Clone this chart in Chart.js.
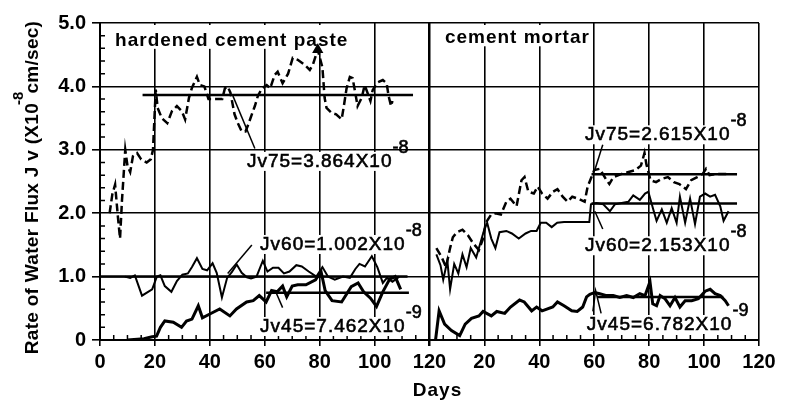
<!DOCTYPE html>
<html>
<head>
<meta charset="utf-8">
<title>Rate of Water Flux</title>
<script src="https://cdn.jsdelivr.net/npm/chart.js@4.4.1/dist/chart.umd.min.js"></script>
<style>
  html, body { margin: 0; padding: 0; background: #fff; }
  canvas { display: block; }
</style>
</head>
<body>
<canvas id="chart" width="795" height="403"></canvas>
<script>
// mortar days are drawn after the paste panel, on one shared x axis
const MORTAR_START = 120;

// hardened cement paste
const pasteDays75 = [3.5, 4.5, 5.5, 6.5, 7.3, 8, 8.6, 9.2, 10, 11, 12, 13.5, 15, 17, 18.5, 19.3, 20.3, 21, 22.5, 24.5,
  26.2, 28, 29.8, 31, 32.4, 33.5, 35.3, 36.4, 38, 39.5, 41, 43, 44.5, 45.5, 46.5, 47.5, 49, 50.2, 51.6, 53,
  54, 55.3, 56.4, 57.5, 59, 60.7, 62, 63.6, 64.7, 66.5, 68.5, 70.2, 72, 74.5, 76.4, 77.5, 79.3, 81, 81.8, 82.5,
  84.4, 86, 88, 88.7, 89.8, 91, 92, 93, 93.8, 95.3, 96.4, 97.5, 98.5, 99.3, 101, 103, 104.4, 105.1, 106, 106.5];
const pasteJv75 = [2.0, 2.3, 2.45, 1.95, 1.6, 2.2, 2.6, 3.0, 2.75, 2.65, 2.9, 2.95, 2.85, 2.8, 2.85, 3.0, 3.95, 3.66, 3.5, 3.42,
  3.61, 3.69, 3.61, 3.48, 3.82, 3.98, 4.15, 4.02, 4.0, 3.8, 3.8, 3.8, 3.8, 3.97, 4.0, 3.9, 3.56, 3.42, 3.29, 3.29,
  3.4, 3.56, 3.69, 3.85, 3.97, 4.02, 3.97, 4.18, 4.23, 4.05, 4.2, 4.45, 4.42, 4.34, 4.26, 4.34, 4.58, 4.3, 3.82, 3.66,
  3.58, 3.56, 3.48, 3.66, 3.97, 4.15, 4.13, 3.89, 3.69, 3.82, 4.02, 3.89, 3.77, 3.94, 4.06, 4.1, 4.05, 3.85, 3.69, 3.77];

const pasteDays60 = [9, 11, 12.7, 15.3, 19, 20.7, 22, 23.6, 26, 28, 30, 32, 33.5, 35.3, 37.3, 39, 41, 42.5, 44.4, 46.3,
  48, 49.8, 51.6, 53.5, 55, 57, 59.3, 61, 63, 65, 67, 69, 71.5, 73.5, 76, 78.8, 81, 83, 85.5, 88.5,
  91, 93, 94.5, 96.5, 99, 101, 103, 104.5, 106.5, 109];
const pasteJv60 = [1.0, 0.98, 1.02, 0.7, 0.8, 1.0, 1.02, 0.85, 0.76, 0.93, 1.03, 1.05, 1.15, 1.29, 1.12, 1.1, 1.21, 1.06, 0.67, 0.98,
  1.07, 1.19, 1.06, 0.99, 0.97, 1.0, 1.25, 1.08, 1.14, 1.14, 1.05, 1.08, 1.18, 1.16, 1.08, 1.0, 1.15, 1.0, 0.95, 1.0,
  0.98, 1.12, 1.2, 1.16, 1.32, 1.15, 0.9, 0.98, 0.92, 1.0];

const pasteDays45 = [10, 16, 19, 20.6, 22, 23.6, 26.7, 29.7, 31.5, 33.5, 35.8, 37.3, 40, 43.6, 47.3, 49.7, 53.4, 55.8, 58, 60.5,
  62.5, 64.5, 66.5, 68, 70, 72, 75, 78.5, 80.5, 82, 84.5, 88, 91.5, 94, 96, 98.5, 100.7, 103, 105.5, 107.5, 109.5];
const pasteJv45 = [0, 0.02, 0.05, 0.06, 0.2, 0.3, 0.28, 0.2, 0.3, 0.33, 0.54, 0.35, 0.41, 0.49, 0.38, 0.49, 0.6, 0.62, 0.7, 0.6,
  0.78, 0.76, 0.85, 0.68, 0.85, 0.87, 0.87, 0.95, 1.08, 0.78, 0.62, 0.6, 0.84, 0.9, 0.76, 0.66, 0.53, 0.76, 0.96, 1.0, 0.8];

// cement mortar (days counted from the start of the mortar panel)
const mortarDays75 = [2.5, 4.5, 6, 7.5, 8.5, 10, 12, 14, 16, 18, 19.5, 20.5, 22.5, 24, 26, 28, 29.5, 31.7, 33.5, 34.6,
  36, 38, 39.4, 41, 43, 45, 46.6, 48.5, 50.3, 52, 54.6, 56.5, 57.6, 59, 60, 62, 64.5, 65.5, 67, 70,
  72.5, 75, 77, 78.3, 79, 80.5, 82.5, 84.5, 86.8, 89, 91, 93.4, 95.3, 97.5, 99.5, 100.7, 102, 104.5, 107, 108.8];
const mortarJv75 = [1.45, 1.3, 1.15, 1.45, 1.62, 1.7, 1.74, 1.65, 1.52, 1.42, 1.6, 1.85, 1.98, 2.0, 1.98, 2.18, 2.23, 2.11, 2.52, 2.57,
  2.34, 2.31, 2.42, 2.31, 2.23, 2.34, 2.38, 2.26, 2.18, 2.26, 2.22, 2.18, 2.42, 2.57, 2.68, 2.7, 2.52, 2.46, 2.57, 2.62,
  2.65, 2.68, 2.75, 2.95, 2.77, 2.52, 2.49, 2.54, 2.57, 2.49, 2.46, 2.38, 2.52, 2.57, 2.62, 2.7, 2.6, 2.62, 2.62, 2.62];

const mortarDays60 = [2.5, 4, 5, 6.5, 7.5, 9, 10.5, 12, 13.5, 15, 17, 19, 20, 21, 22.5, 24, 25.5, 28, 30, 32.5,
  35, 37, 39, 40.5, 42.5, 44.5, 46.5, 49, 58.2, 58.8, 60.8, 63.3, 65.7, 67.5, 70, 72.4, 74.2, 76.6, 78.5, 79.7,
  81.5, 82.7, 84.6, 86.4, 88.2, 90, 91.2, 93.1, 94.9, 96.7, 98.5, 100.4, 102.2, 104, 105.9, 107.1, 108.9];
const mortarJv60 = [1.35, 1.18, 0.95, 1.25, 0.8, 1.2, 1.05, 1.35, 1.15, 1.45, 1.3, 1.6, 1.75, 1.85, 1.6, 1.45, 1.7, 1.72, 1.68, 1.6,
  1.68, 1.72, 1.72, 1.85, 1.85, 1.78, 1.85, 1.86, 1.86, 2.14, 2.16, 2.14, 2.03, 2.14, 2.16, 2.18, 2.28, 2.21, 2.31, 2.34,
  2.06, 1.88, 2.06, 1.85, 2.08, 1.85, 2.26, 1.85, 2.23, 1.83, 2.26, 2.31, 2.26, 2.29, 2.11, 1.88, 2.03];

const mortarDays45 = [2.2, 3.5, 5.5, 8, 11, 13, 15.3, 18, 19.5, 22.5, 24.5, 27.4, 29.5, 32.8, 34.5, 37.2, 39, 41, 44.9, 46.6,
  49, 51.8, 53.8, 55.8, 57.2, 58.4, 60.2, 62, 64.5, 66.9, 69.3, 71.8, 74.2, 76.6, 78.5, 80.3, 81.3, 82.7, 84, 85.8,
  87.6, 89.4, 91.2, 93.1, 95.5, 97.9, 100.4, 102.2, 104, 105.9, 107.7, 108.9];
const mortarJv45 = [0, 0.46, 0.25, 0.15, 0.07, 0.25, 0.34, 0.38, 0.45, 0.38, 0.45, 0.42, 0.52, 0.63, 0.6, 0.46, 0.52, 0.46, 0.52, 0.6,
  0.54, 0.46, 0.45, 0.52, 0.68, 0.72, 0.75, 0.73, 0.7, 0.7, 0.67, 0.7, 0.67, 0.73, 0.7, 0.92, 0.57, 0.54, 0.7, 0.65,
  0.54, 0.67, 0.52, 0.62, 0.62, 0.65, 0.77, 0.8, 0.73, 0.7, 0.62, 0.54];

// mean flux lines (Jv75, Jv60, Jv45), in units of 1e-8 cm/sec
const pasteMeans = [3.864, 1.002, 0.7462];
const pasteMeanFrom = [15.5, 0, 60.5];
const pasteMeanTo = [114, 112, 112.5];
const mortarMeans = [2.615, 2.153, 0.6782];
const mortarMeanFrom = [59, 59, 61];
const mortarMeanTo = [112, 112, 107];

// leader lines from the labels to the curves (0 = paste, 1 = mortar)
const leaderPanel = [0, 0, 0, 1, 1, 1];
const leaderDays = [[48.4, 56.4], [46.5, 55.3], [64, 66.5], [60.2, 63.1], [60.2, 63.1], [59.5, 60.5, 62.5]];
const leaderValues = [[3.85, 3.02], [1.05, 1.5], [0.76, 0.51], [2.68, 3.08], [2.03, 1.75], [0.45, 0.78, 0.42]];

// axis ticks
const xTickStep = 20;
const yTickStep = 1;

// text annotations: panel, local day, value of the baseline
const panelTitles = [
  { text: 'hardened cement paste', panel: 0, day: 5.5, value: 4.64 },
  { text: 'cement mortar', panel: 1, day: 5.6, value: 4.68 }
];
const fluxLabels = [
  { text: 'Jv75=3.864X10', sup: '-8', panel: 0, day: 53.5, value: 2.73 },
  { text: 'Jv60=1.002X10', sup: '-8', panel: 0, day: 58.3, value: 1.42 },
  { text: 'Jv45=7.462X10', sup: '-9', panel: 0, day: 58.3, value: 0.126 },
  { text: 'Jv75=2.615X10', sup: '-8', panel: 1, day: 56.6, value: 3.15 },
  { text: 'Jv60=2.153X10', sup: '-8', panel: 1, day: 56.6, value: 1.4 },
  { text: 'Jv45=6.782X10', sup: '-9', panel: 1, day: 57.3, value: 0.158 }
];

const FONT = '"Liberation Sans", Arial, Helvetica, sans-serif';
const toX = (panel, d) => d + (panel === 1 ? MORTAR_START : 0);
const pts = (panel, days, vals) => days.map((d, i) => ({ x: toX(panel, d), y: vals[i] }));

const arrowIndex = pasteJv75.indexOf(Math.max(...pasteJv75));

function series(data, kind) {
  const ds = { data, borderColor: '#000', backgroundColor: '#000', pointRadius: 0, tension: 0, fill: false };
  if (kind === 'jv75') { ds.borderWidth = 2.5; ds.borderDash = [8, 4]; }
  if (kind === 'jv60') ds.borderWidth = 2;
  if (kind === 'jv45') ds.borderWidth = 3;
  if (kind === 'mean') ds.borderWidth = 2.5;
  if (kind === 'leader') ds.borderWidth = 1.5;
  return ds;
}

const datasets = [];
const arrowSeries = series(pts(0, pasteDays75, pasteJv75), 'jv75');
arrowSeries.pointRadius = (c) => c.dataIndex === arrowIndex ? 4 : 0;
arrowSeries.pointStyle = 'triangle';
datasets.push(arrowSeries);
datasets.push(series(pts(0, pasteDays60, pasteJv60), 'jv60'));
datasets.push(series(pts(0, pasteDays45, pasteJv45), 'jv45'));
datasets.push(series(pts(1, mortarDays75, mortarJv75), 'jv75'));
datasets.push(series(pts(1, mortarDays60, mortarJv60), 'jv60'));
datasets.push(series(pts(1, mortarDays45, mortarJv45), 'jv45'));
pasteMeans.forEach((m, i) => datasets.push(series(pts(0, [pasteMeanFrom[i], pasteMeanTo[i]], [m, m]), 'mean')));
mortarMeans.forEach((m, i) => datasets.push(series(pts(1, [mortarMeanFrom[i], mortarMeanTo[i]], [m, m]), 'mean')));
leaderDays.forEach((d, i) => datasets.push(series(pts(leaderPanel[i], d, leaderValues[i]), 'leader')));

// scanned type looks heavy: fill plus a thin stroke
function drawText(ctx, x, y, text, font, spacing, heavy) {
  ctx.font = font;
  ctx.letterSpacing = spacing;
  ctx.fillText(text, x, y);
  if (heavy) {
    ctx.lineWidth = 0.6;
    ctx.strokeStyle = '#000';
    ctx.strokeText(text, x, y);
  }
  return ctx.measureText(text).width;
}

const decorations = {
  id: 'decorations',
  beforeDatasetsDraw(chart) {
    const { ctx, chartArea: a } = chart;
    const xs = chart.scales.x, ys = chart.scales.y;
    ctx.save();
    ctx.strokeStyle = '#000';
    ctx.lineWidth = 1.5;
    ctx.beginPath();
    // minor ticks every 5 days and every 0.2
    for (let v = 5; v < 240; v += 5) {
      if (v % xTickStep === 0) continue;
      const px = xs.getPixelForValue(v);
      ctx.moveTo(px, a.bottom);
      ctx.lineTo(px, a.bottom - 5);
    }
    for (let k = 1; k < 25; k++) {
      if (k % 5 === 0) continue;
      const py = ys.getPixelForValue(k * 0.2);
      ctx.moveTo(a.left, py);
      ctx.lineTo(a.left + 5, py);
    }
    ctx.stroke();

    ctx.textBaseline = 'alphabetic';
    ctx.textAlign = 'left';
    panelTitles.forEach(t => {
      const px = xs.getPixelForValue(toX(t.panel, t.day));
      const py = ys.getPixelForValue(t.value);
      ctx.font = 'bold 19px ' + FONT;
      ctx.letterSpacing = '1px';
      const w = ctx.measureText(t.text).width;
      ctx.fillStyle = '#fff';
      ctx.fillRect(px - 3, a.top + 2, w + 6, py + 3 - a.top - 2);
      ctx.fillStyle = '#000';
      ctx.fillText(t.text, px, py);
    });
    fluxLabels.forEach(l => {
      const px = xs.getPixelForValue(toX(l.panel, l.day));
      const py = ys.getPixelForValue(l.value);
      ctx.font = '19px ' + FONT;
      ctx.letterSpacing = '1px';
      const w = ctx.measureText(l.text).width;
      ctx.fillStyle = '#fff';
      ctx.fillRect(px - 2, py - 15, w + 2, 19);
      ctx.fillStyle = '#000';
      drawText(ctx, px, py, l.text, '19px ' + FONT, '1px', true);
      drawText(ctx, px + w, py - 14, l.sup, '18px ' + FONT, '0px', true);
    });
    ctx.restore();
  },
  afterDraw(chart) {
    const { ctx, chartArea: a } = chart;
    ctx.save();
    ctx.fillStyle = '#000';
    ctx.textBaseline = 'alphabetic';
    // x title
    ctx.textAlign = 'center';
    ctx.font = 'bold 19px ' + FONT;
    ctx.letterSpacing = '1px';
    ctx.fillText('Days', (a.left + a.right) / 2 + 8, a.bottom + 56);
    // y title with superscript
    ctx.translate(a.left - 69, (a.top + a.bottom) / 2 + 6);
    ctx.rotate(-Math.PI / 2);
    ctx.textAlign = 'left';
    const main = 'bold 19px ' + FONT, small = 'bold 15px ' + FONT;
    const p1 = 'Rate of Water Flux J v (X10', p2 = '-8', p3 = 'cm/sec)';
    ctx.font = main; ctx.letterSpacing = '0.3px';
    const w1 = ctx.measureText(p1).width, w3 = ctx.measureText(p3).width;
    ctx.font = small; ctx.letterSpacing = '0px';
    const w2 = ctx.measureText(p2).width;
    let x = -(w1 + w2 + w3 - 4) / 2;
    x += drawText(ctx, x, 7, p1, main, '0.3px', false) - 2;
    x += drawText(ctx, x, -8, p2, small, '0px', false) - 2;
    drawText(ctx, x, 7, p3, main, '0.3px', false);
    ctx.restore();
  }
};

const tickFont = { family: FONT, size: 20, weight: 'bold' };

new Chart(document.getElementById('chart').getContext('2d'), {
  type: 'line',
  data: { datasets },
  plugins: [decorations],
  options: {
    responsive: false,
    animation: false,
    layout: { padding: { top: 23, right: 36, left: 0, bottom: 0 } },
    plugins: { legend: { display: false }, tooltip: { enabled: false } },
    scales: {
      x: {
        type: 'linear', min: 0, max: 240,
        afterFit: (s) => { s.height = 63; },
        ticks: {
          stepSize: xTickStep, autoSkip: false, maxRotation: 0, padding: 4, color: '#000', font: tickFont,
          callback: (v) => (v > MORTAR_START ? v - MORTAR_START : v)
        },
        grid: {
          color: '#000', tickColor: '#000', tickLength: 6,
          lineWidth: (c) => (c.tick && c.tick.value === MORTAR_START ? 2.5 : 1.6)
        },
        border: { color: '#000', width: 2 }
      },
      y: {
        type: 'linear', min: 0, max: 5,
        afterFit: (s) => { s.width = 100; },
        ticks: {
          stepSize: yTickStep, padding: 6, color: '#000', font: tickFont,
          callback: (v) => (v === 0 ? '0' : v.toFixed(1))
        },
        grid: { color: '#000', tickColor: '#000', tickLength: 8, lineWidth: 1.6 },
        border: { color: '#000', width: 2 }
      }
    }
  }
});
</script>
</body>
</html>
